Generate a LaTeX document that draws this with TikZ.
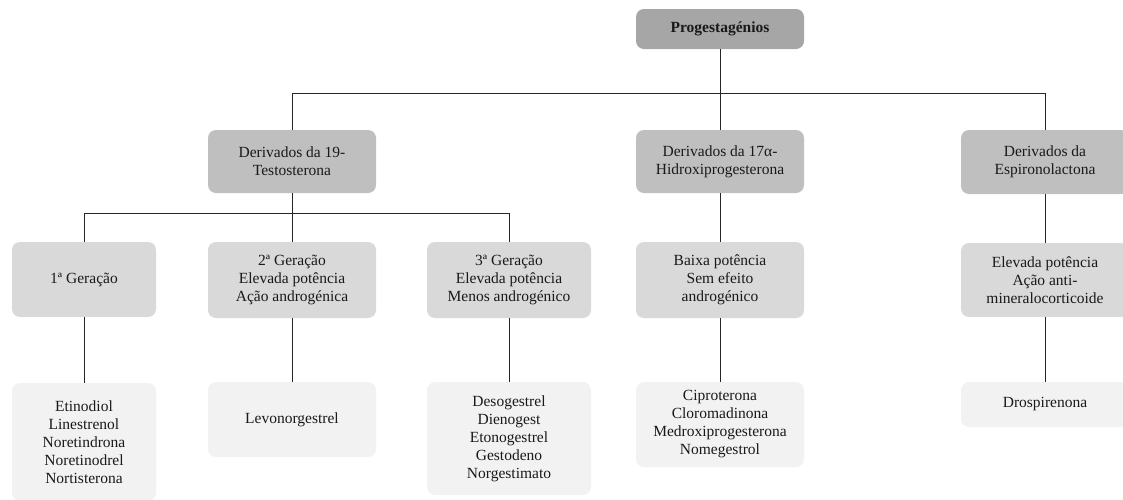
\documentclass[tikz,border=0pt]{standalone}
\usepackage{fontspec}
\setmainfont{Liberation Serif}
\begin{document}
\begin{tikzpicture}[x=1pt,y=-1pt,
  box/.style={rounded corners=8pt, align=center, inner sep=0pt, text=black!90,
    font=\fontsize{15.5}{18}\selectfont},
  lvA/.style={box, fill=black!35},
  lvB/.style={box, fill=black!25},
  lvC/.style={box, fill=black!15},
  lvD/.style={box, fill=black!5},
  conn/.style={draw=black!85, line width=0.8pt}]
\useasboundingbox (0,0) rectangle (1123,499);
% level 0
\node[lvA, minimum width=168pt, minimum height=40pt] (root) at (720,29) {\textbf{Progestagénios}};
% level 1
\node[lvB, minimum width=168pt, minimum height=63pt] (d19) at (292,161.5) {Derivados da 19-\\Testosterona};
\node[lvB, minimum width=168pt, minimum height=63pt] (d17) at (720,161.5) {Derivados da 17α-\\Hidroxiprogesterona};
\node[lvB, minimum width=168pt, minimum height=64pt] (desp) at (1045,162) {Derivados da\\Espironolactona};
% level 2
\node[lvC, minimum width=144pt, minimum height=75pt] (g1) at (84,279.5) {1ª Geração};
\node[lvC, minimum width=168pt, minimum height=76pt] (g2) at (292,280) {2ª Geração\\Elevada potência\\Ação androgénica};
\node[lvC, minimum width=164pt, minimum height=76pt] (g3) at (509,280) {3ª Geração\\Elevada potência\\Menos androgénico};
\node[lvC, minimum width=168pt, minimum height=76pt] (b17) at (720,280) {Baixa potência\\Sem efeito\\androgénico};
\node[lvC, minimum width=168pt, minimum height=74pt] (besp) at (1045,280) {Elevada potência\\Ação anti-\\mineralocorticoide};
% level 3
\node[lvD, minimum width=144pt, minimum height=118pt] (e1) at (84,442) {Etinodiol\\Linestrenol\\Noretindrona\\Noretinodrel\\Nortisterona};
\node[lvD, minimum width=168pt, minimum height=75pt] (e2) at (292,419.5) {Levonorgestrel};
\node[lvD, minimum width=164pt, minimum height=113pt] (e3) at (509,438.5) {Desogestrel\\Dienogest\\Etonogestrel\\Gestodeno\\Norgestimato};
\node[lvD, minimum width=168pt, minimum height=85pt] (e17) at (720,424.5) {Ciproterona\\Cloromadinona\\Medroxiprogesterona\\Nomegestrol};
\node[lvD, minimum width=168pt, minimum height=45pt] (eesp) at (1045,404.5) {Drospirenona};
% buses
\coordinate (bus1) at (720,93);
\coordinate (bus2) at (292,213);
\draw[conn] (root.south) -- (bus1);
\draw[conn] (d19.north) -- (d19.north |- bus1) -- (desp.north |- bus1) -- (desp.north);
\draw[conn] (d17.north) -- (d17.north |- bus1);
\draw[conn] (d19.south) -- (bus2);
\draw[conn] (g1.north) -- (g1.north |- bus2) -- (g3.north |- bus2) -- (g3.north);
\draw[conn] (g2.north) -- (g2.north |- bus2);
\draw[conn] (d17.south) -- (b17.north);
\draw[conn] (desp.south) -- (besp.north);
\draw[conn] (g1.south) -- (e1.north);
\draw[conn] (g2.south) -- (e2.north);
\draw[conn] (g3.south) -- (e3.north);
\draw[conn] (b17.south) -- (e17.north);
\draw[conn] (besp.south) -- (eesp.north);
\end{tikzpicture}
\end{document}
